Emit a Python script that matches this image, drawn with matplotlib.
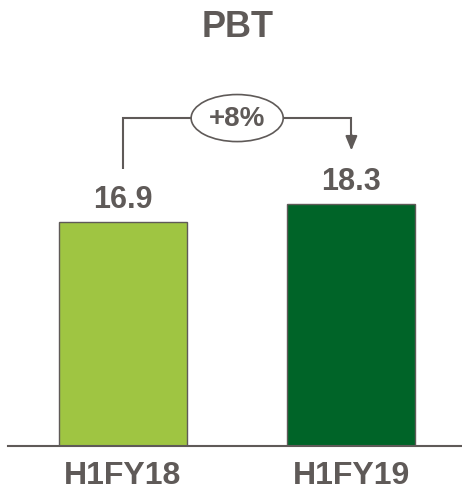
import matplotlib.pyplot as plt
from matplotlib.patches import Ellipse

periods = ["H1FY18", "H1FY19"]
pbt = [16.9, 18.3]
bar_colors = ["#9fc542", "#006428"]
growth_label = "+8%"
title = "PBT"

GREY = "#5f5a58"
plt.rcParams["font.family"] = ["Liberation Sans", "DejaVu Sans"]

fig = plt.figure(figsize=(4.62, 4.91), dpi=100)
ax = fig.add_axes([8 / 462, 45 / 491, 454 / 462, 446 / 491])

x = list(range(len(periods)))
ax.bar(x, pbt, width=0.56, color=bar_colors, edgecolor=GREY, linewidth=1.0, zorder=2)

ax.set_xlim(-0.503, 1.484)
ax.set_ylim(0, 33.66)

for xi, v in zip(x, pbt):
    ax.annotate(f"{v:.1f}", (xi, v), xytext=(0, 10), textcoords="offset points",
                ha="center", va="baseline", fontsize=22, fontweight="bold", color=GREY)

# category names under the axis line
for xi, p in zip(x, periods):
    ax.text(xi, -2.9, p, ha="center", va="baseline", fontsize=23,
            fontweight="bold", color=GREY, clip_on=False)

ax.text(0.5, 30.87, title, ha="center", va="baseline", fontsize=26,
        fontweight="bold", color=GREY)

# growth bracket from first bar label to second, arrow pointing down
y_top = 24.75
ax.plot([0, 0, 1, 1], [20.9, y_top, y_top, 23.4], color=GREY, lw=1.5,
        solid_capstyle="butt", solid_joinstyle="miter")
ax.annotate("", xy=(1, 22.3), xytext=(1, 23.5),
            arrowprops=dict(arrowstyle="-|>,head_length=0.85,head_width=0.35",
                            color=GREY, lw=1.5, shrinkA=0, shrinkB=0))
ax.add_patch(Ellipse((0.5, y_top), 0.403, 3.55, facecolor="white",
                     edgecolor=GREY, lw=1.2, zorder=3))
ax.text(0.5, y_top - 0.05, growth_label, ha="center", va="center", fontsize=20,
        fontweight="bold", color=GREY, zorder=4)

for side in ["top", "left", "right"]:
    ax.spines[side].set_visible(False)
ax.spines["bottom"].set_color(GREY)
ax.spines["bottom"].set_linewidth(1.5)
ax.set_xticks([])
ax.set_yticks([])

fig.savefig("out.png", dpi=100)
plt.close(fig)
